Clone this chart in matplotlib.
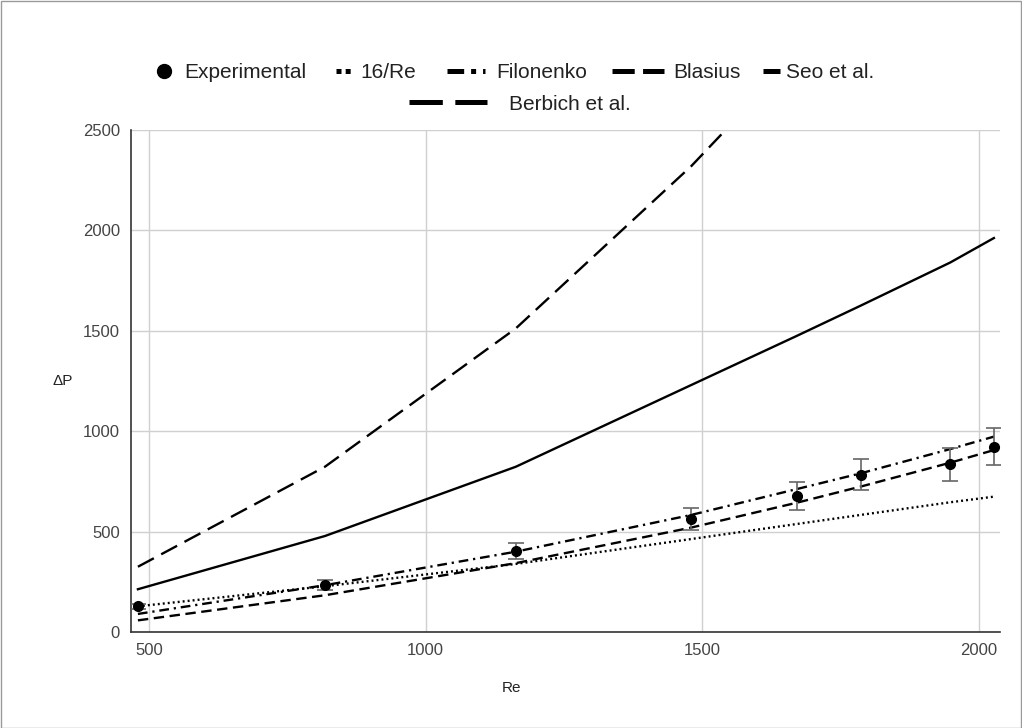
import matplotlib
matplotlib.use("Agg")
import matplotlib.pyplot as plt
from matplotlib.lines import Line2D
from matplotlib.patches import Rectangle

plt.rcParams['font.family'] = ['Liberation Sans', 'DejaVu Sans']
plt.rcParams['lines.scale_dashes'] = False

# ---- data ----
re_vals = [480, 818, 1163, 1480, 1671, 1786, 1948, 2027]
experimental = [127, 234, 403, 563, 679, 783, 835, 923]
exp_err = [13, 24, 40, 56, 69, 78, 82, 92]
laminar_16re = [128, 228, 339, 463, 538, 583, 646, 674]
filonenko = [90, 233, 400, 583, 712, 790, 911, 973]
blasius = [58, 183, 343, 520, 644, 724, 843, 906]
seo = [213, 478, 823, 1230, 1475, 1625, 1840, 1962]
berbich = [325, 823, 1512, 2320, 2874, 3250, 3800, 4100]

x_ticks = [500, 1000, 1500, 2000]
y_ticks = [0, 500, 1000, 1500, 2000, 2500]
labels = ['Experimental', '16/Re', 'Filonenko', 'Blasius', 'Seo et al.', 'Berbich et al.']

W, H = 1022, 728
fig = plt.figure(figsize=(W / 100, H / 100), dpi=100)
ax = fig.add_axes([131 / W, 1 - 632 / H, (1000 - 131) / W, (632 - 130) / H])

lw = 1.7
dotted = (0, (1.4, 2.2))
dashdot = (0, (7, 3.5, 1.6, 3.5))
dashed = (0, (7.5, 4))
longdash = (0, (13, 6))

ax.plot(re_vals, laminar_16re, color='black', lw=lw, linestyle=dotted, zorder=3)
ax.plot(re_vals, filonenko, color='black', lw=lw, linestyle=dashdot, zorder=3)
ax.plot(re_vals, blasius, color='black', lw=lw, linestyle=dashed, zorder=3)
ax.plot(re_vals, seo, color='black', lw=lw, linestyle='-', zorder=3)
ax.plot(re_vals, berbich, color='black', lw=lw, linestyle=longdash, zorder=3)
ax.errorbar(re_vals, experimental, yerr=exp_err, fmt='none', ecolor='#666666',
            elinewidth=1.2, capsize=5.5, capthick=1.2, zorder=4)
ax.plot(re_vals, experimental, 'o', color='black', markersize=7, zorder=5)

ax.set_xlim(467.5, 2038)
ax.set_ylim(0, 2500)
ax.set_xticks(x_ticks)
ax.set_yticks(y_ticks)
ax.grid(True, color='#d0d0d0', linewidth=1.0, zorder=0)
ax.set_axisbelow(True)
for s in ['top', 'right']:
    ax.spines[s].set_visible(False)
for s in ['left', 'bottom']:
    ax.spines[s].set_color('#333333')
    ax.spines[s].set_linewidth(1.2)
ax.tick_params(length=0, labelsize=12, labelcolor='#444444')
ax.tick_params(axis='y', pad=8)
ax.tick_params(axis='x', pad=8)

fig.text(0.5, 1 - 688 / H, 'Re', ha='center', va='center', fontsize=11, color='#222222')
fig.text(63 / W, 1 - 381 / H, 'ΔP', ha='center', va='center', fontsize=11,
         color='#222222')

# ---- legend: one entry per legend so each handle can keep its own length ----
hlw = 3.6
handles = [
    Line2D([], [], color='black', marker='o', linestyle='none', markersize=10),
    Line2D([], [], color='black', lw=hlw, linestyle=(0, (3.6, 3.0))),
    Line2D([], [], color='black', lw=hlw, linestyle=(0, (12, 5, 3.6, 5))),
    Line2D([], [], color='black', lw=hlw, linestyle=(0, (16, 6))),
    Line2D([], [], color='black', lw=hlw, linestyle='-', solid_capstyle='butt'),
    Line2D([], [], color='black', lw=hlw, linestyle=(0, (24, 9))),
]
for h in handles[1:]:
    h.set_dash_capstyle('butt')

fs = 15
row1 = 1 - 73 / H
row2 = 1 - 104 / H
entries = [  # (left px, row, handlelength em, text pad em)
    (155, row1, 0.85, 0.55),
    (336, row1, 0.70, 0.45),
    (447, row1, 1.80, 0.55),
    (612, row1, 2.50, 0.45),
    (763, row1, 0.80, 0.30),
    (409, row2, 3.75, 1.05),
]
for h, lab, (x0, yy, hl, tp) in zip(handles, labels, entries):
    fig.legend([h], [lab], loc='center left', bbox_to_anchor=(x0 / W, yy),
               frameon=False, fontsize=fs, handlelength=hl, handletextpad=tp,
               borderpad=0, borderaxespad=0, labelcolor='#222222')

fig.add_artist(Rectangle((0.5 / W, 0.5 / H), 1 - 1.5 / W, 1 - 1.5 / H,
                         transform=fig.transFigure, fill=False,
                         edgecolor='#9a9a9a', linewidth=1.0))

fig.savefig('out.png', dpi=100, facecolor='white')
